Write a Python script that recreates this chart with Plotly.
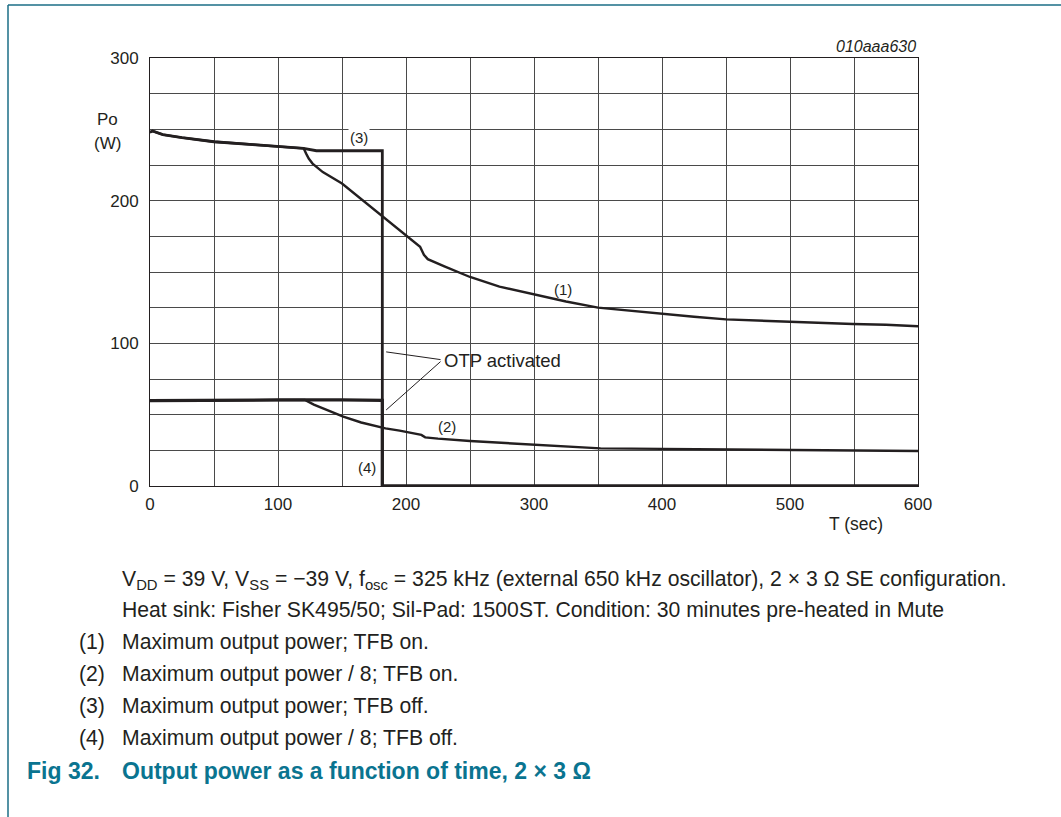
import plotly.graph_objects as go

# ---- data ----
t1 = [0, 2, 10, 25, 50, 75, 100, 120, 122, 124, 127, 135, 150, 165, 182, 195, 205, 211, 214, 217, 230, 250, 273, 301, 325, 350, 375, 401, 425, 450, 475, 500, 525, 549, 575, 600]
p1 = [248, 248.8, 246.3, 244.2, 241.3, 239.5, 237.8, 236.7, 233, 229.5, 226, 220, 212, 201, 189, 179, 172, 167.7, 162, 159, 154, 146.5, 139.7, 134, 129.3, 125, 122.8, 121, 118.6, 116.8, 116, 115.2, 114, 113.5, 113, 112]

t2 = [0, 25, 50, 75, 100, 121, 128, 135, 151, 165, 184, 195, 208, 212, 215, 225, 250, 275, 300, 325, 352, 400, 450, 500, 550, 600]
p2 = [59.8, 60, 60.2, 60.3, 60.3, 60.4, 57, 54.4, 48.6, 44.5, 40.4, 38.8, 36.9, 35.8, 34.1, 33.2, 31.5, 30.2, 29, 27.5, 26.4, 26, 25.5, 25, 24.7, 24.5]

t3 = [0, 2, 10, 25, 50, 75, 100, 120, 130, 140, 160, 178, 181.5, 181.5, 300, 450, 600]
p3 = [248, 248.8, 246.3, 244.2, 241.3, 239.5, 237.8, 236.7, 235, 235, 235.2, 235, 235, 0, 0, 0, 0]

t4 = [0, 50, 100, 150, 175, 180, 181.5, 181.5, 300, 450, 600]
p4 = [59.8, 60.2, 60.3, 60.4, 60.4, 60, 60, 0, 0, 0, 0]

x_tickvals = [0, 100, 200, 300, 400, 500, 600]
x_ticktext = ["0", "100", "200", "300", "400", "500", "600"]
y_tickvals = [0, 100, 200, 300]
y_ticktext = ["0", "100", "200", "300"]
x_minor_step = 50
y_minor_step = 25

curve_labels = ["(1)", "(2)", "(3)", "(4)"]
label_pos = [(322.3, 137.4), (231.8, 41.6), (163.3, 244.3), (169.3, 13)]

caption_lines = [
    "V<sub>DD</sub> = 39 V, V<sub>SS</sub> = \u221239 V, f<sub>osc</sub> = 325 kHz (external 650 kHz oscillator), 2 \u00d7 3 \u03a9 SE configuration.",
    "Heat sink: Fisher SK495/50; Sil-Pad: 1500ST. Condition: 30 minutes pre-heated in Mute",
]
legend_lines = [
    "Maximum output power; TFB on.",
    "Maximum output power / 8; TFB on.",
    "Maximum output power; TFB off.",
    "Maximum output power / 8; TFB off.",
]
fig_number = "Fig 32."
fig_title = "Output power as a function of time, 2 \u00d7 3 \u03a9"

# ---- layout geometry ----
W, H = 1061, 817
L, R, T, B = 150, 918, 58, 486
FONT = "Liberation Sans, Arial, sans-serif"
TEAL = "#0a7490"
FRAME = "#1b6e86"
INK = "#231f20"
GRID = "#4a4a4a"


def px(x):
    return (x - L) / (R - L)


def py(y):
    return (B - y) / (B - T)


fig = go.Figure()
fig.add_trace(go.Scatter(x=t1, y=p1, mode="lines", line=dict(color=INK, width=2.4), hoverinfo="skip"))
fig.add_trace(go.Scatter(x=t2, y=p2, mode="lines", line=dict(color=INK, width=2.4), hoverinfo="skip"))
fig.add_trace(go.Scatter(x=t3, y=p3, mode="lines", line=dict(color=INK, width=2.8), hoverinfo="skip"))
fig.add_trace(go.Scatter(x=t4, y=p4, mode="lines", line=dict(color=INK, width=3.2), hoverinfo="skip"))

annotations = []
for lab, (lx, ly) in zip(curve_labels, label_pos):
    annotations.append(dict(x=lx, y=ly, xref="x", yref="y", text=lab, showarrow=False,
                            xanchor="center", yanchor="middle",
                            font=dict(family=FONT, size=15, color=INK),
                            bgcolor="white" if lab == "(3)" else "rgba(0,0,0,0)"))

annotations.append(dict(x=228, y=87.8, xref="x", yref="y", text="OTP activated", showarrow=False,
                        xanchor="left", yanchor="middle", font=dict(family=FONT, size=18.5, color=INK)))

# axis titles / id
annotations += [
    dict(x=px(107.5), y=py(119), xref="paper", yref="paper", text="Po", showarrow=False,
         xanchor="center", yanchor="middle", font=dict(family=FONT, size=17, color=INK)),
    dict(x=px(107.5), y=py(143), xref="paper", yref="paper", text="(W)", showarrow=False,
         xanchor="center", yanchor="middle", font=dict(family=FONT, size=17, color=INK)),
    dict(x=px(856), y=py(524), xref="paper", yref="paper", text="T (sec)", showarrow=False,
         xanchor="center", yanchor="middle", font=dict(family=FONT, size=17.5, color=INK)),
    dict(x=1, y=py(46), xref="paper", yref="paper", text="<i>010aaa630</i>", showarrow=False,
         xanchor="right", yanchor="middle", font=dict(family=FONT, size=16, color=INK)),
]

# caption
cap_y = [580, 610]
for txt, yy in zip(caption_lines, cap_y):
    annotations.append(dict(x=px(120), y=py(yy), xref="paper", yref="paper", text=txt, showarrow=False,
                            xanchor="left", yanchor="middle", font=dict(family=FONT, size=21.2, color=INK)))
leg_y = [642, 674, 706, 738]
for lab, txt, yy in zip(curve_labels, legend_lines, leg_y):
    annotations.append(dict(x=px(77), y=py(yy), xref="paper", yref="paper", text=lab, showarrow=False,
                            xanchor="left", yanchor="middle", font=dict(family=FONT, size=21.2, color=INK)))
    annotations.append(dict(x=px(120), y=py(yy), xref="paper", yref="paper", text=txt, showarrow=False,
                            xanchor="left", yanchor="middle", font=dict(family=FONT, size=21.2, color=INK)))
annotations.append(dict(x=px(25), y=py(771), xref="paper", yref="paper", text="<b>" + fig_number + "</b>",
                        showarrow=False, xanchor="left", yanchor="middle",
                        font=dict(family=FONT, size=23, color=TEAL)))
annotations.append(dict(x=px(120), y=py(771), xref="paper", yref="paper", text="<b>" + fig_title + "</b>",
                        showarrow=False, xanchor="left", yanchor="middle",
                        font=dict(family=FONT, size=23, color=TEAL)))

shapes = [
    # OTP leader lines
    dict(type="line", xref="x", yref="y", x0=184.5, y0=94, x1=227, y1=88.6, line=dict(color=INK, width=1)),
    dict(type="line", xref="x", yref="y", x0=184.5, y0=53.3, x1=227, y1=87.2, line=dict(color=INK, width=1)),
    # page frame
    dict(type="line", xref="paper", yref="paper", x0=px(8), y0=py(5), x1=px(8), y1=py(817),
         line=dict(color=FRAME, width=1.5)),
    dict(type="line", xref="paper", yref="paper", x0=px(8), y0=py(5), x1=px(1061), y1=py(5),
         line=dict(color=FRAME, width=1.5)),
]

fig.update_layout(
    width=W, height=H,
    margin=dict(l=L, r=W - R, t=T, b=H - B, pad=0),
    paper_bgcolor="white", plot_bgcolor="white",
    showlegend=False,
    annotations=annotations,
    shapes=shapes,
    font=dict(family=FONT, color=INK),
)
fig.update_xaxes(range=[0, 600], tickvals=x_tickvals, ticktext=x_ticktext, showgrid=True,
                 gridcolor=GRID, gridwidth=1, zeroline=False, showline=True, linecolor=INK,
                 linewidth=1, mirror=True, ticks="", ticklabelstandoff=3,
                 minor=dict(tick0=0, dtick=x_minor_step, showgrid=True, gridcolor=GRID, gridwidth=1, ticks=""),
                 tickfont=dict(family=FONT, size=17, color=INK))
fig.update_yaxes(range=[0, 300], tickvals=y_tickvals, ticktext=y_ticktext, showgrid=True,
                 gridcolor=GRID, gridwidth=1, zeroline=False, showline=True, linecolor=INK,
                 linewidth=1, mirror=True, ticks="", ticklabelstandoff=7,
                 minor=dict(tick0=0, dtick=y_minor_step, showgrid=True, gridcolor=GRID, gridwidth=1, ticks=""),
                 tickfont=dict(family=FONT, size=17, color=INK))

fig.write_html("out.html", config={"displayModeBar": False},
               post_script="document.body.style.margin='0px';")
